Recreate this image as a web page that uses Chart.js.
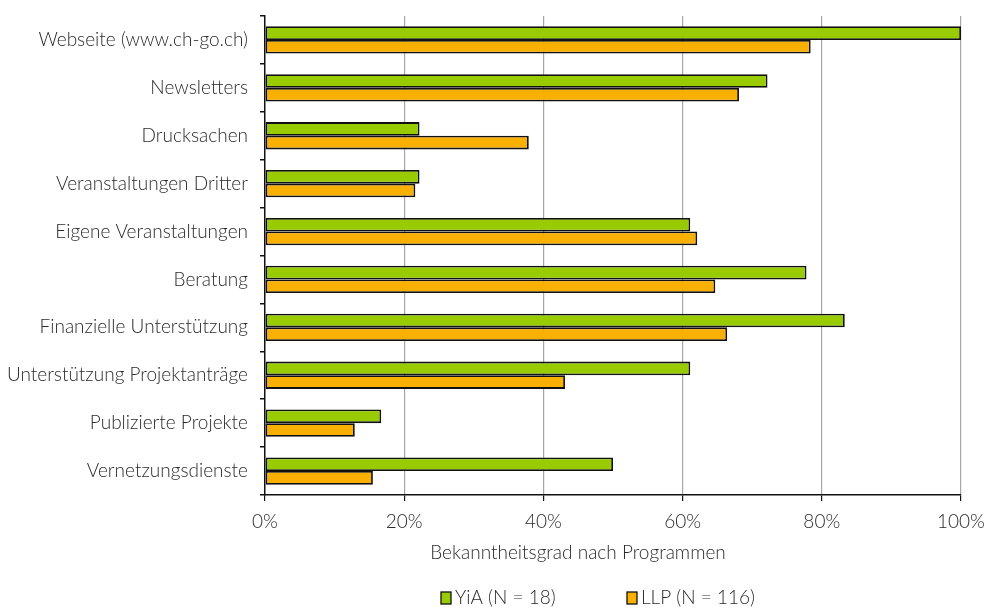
<!DOCTYPE html>
<html>
<head>
<meta charset="utf-8">
<script src="https://cdn.jsdelivr.net/npm/chart.js@4.4.0/dist/chart.umd.min.js"></script>
<style>
  body { margin: 0; background: #fff; }
</style>
</head>
<body>
<canvas id="chartBekanntheit" width="986" height="613"></canvas>
<script>
const kategorien = [
  'Webseite (www.ch-go.ch)', 'Newsletters', 'Drucksachen', 'Veranstaltungen Dritter',
  'Eigene Veranstaltungen', 'Beratung', 'Finanzielle Unterstützung',
  'Unterstützung Projektanträge', 'Publizierte Projekte', 'Vernetzungsdienste'
];
const yiaWerte = [100, 72.2, 22.2, 22.2, 61.1, 77.8, 83.3, 61.1, 16.7, 50];
const llpWerte = [78.4, 68.1, 37.9, 21.6, 62.1, 64.7, 66.4, 43.1, 12.9, 15.5];
const serienNamen = ['YiA (N = 18)', 'LLP (N = 116)'];
const xTicks = [0, 20, 40, 60, 80, 100];
const xTitel = 'Bekanntheitsgrad nach Programmen';

const schrift = 'Lato, "DejaVu Sans", sans-serif';
Chart.defaults.font.family = schrift;
Chart.defaults.font.size = 19;
Chart.defaults.font.weight = 300;
Chart.defaults.color = '#2a2a2a';

// Achsentitel und Legende unten, von Hand gezeichnet
const beschriftungPlugin = {
  id: 'beschriftungUnten',
  afterDraw(chart) {
    const ctx = chart.ctx;
    ctx.save();
    ctx.font = '300 19px ' + schrift;
    ctx.textBaseline = 'middle';
    ctx.fillStyle = '#2a2a2a';
    ctx.textAlign = 'center';
    ctx.fillText(xTitel, 578, 553);

    const y = 598;
    const startX = [441, 627];
    ctx.textAlign = 'left';
    chart.data.datasets.forEach((ds, i) => {
      ctx.fillStyle = ds.backgroundColor;
      ctx.fillRect(startX[i], y - 6, 10, 12);
      ctx.strokeStyle = '#111';
      ctx.lineWidth = 1.3;
      ctx.strokeRect(startX[i], y - 6, 10, 12);
      ctx.fillStyle = '#2a2a2a';
      ctx.fillText(ds.label, startX[i] + 14, y);
    });
    ctx.restore();
  }
};

new Chart(document.getElementById('chartBekanntheit'), {
  type: 'bar',
  data: {
    labels: kategorien,
    datasets: [{
      label: serienNamen[0],
      data: yiaWerte,
      backgroundColor: '#99CC00',
      borderColor: '#111',
      borderWidth: 1.8,
      borderSkipped: false
    }, {
      label: serienNamen[1],
      data: llpWerte,
      backgroundColor: '#FAB000',
      borderColor: '#111',
      borderWidth: 1.8,
      borderSkipped: false
    }]
  },
  options: {
    indexAxis: 'y',
    responsive: false,
    animation: false,
    datasets: { bar: { categoryPercentage: 0.57, barPercentage: 1 } },
    layout: { padding: { left: 0, right: 25, top: 16, bottom: 46 } },
    plugins: {
      legend: { display: false },
      tooltip: { enabled: false }
    },
    scales: {
      x: {
        min: 0,
        max: 100,
        afterBuildTicks: s => { s.ticks = xTicks.map(v => ({ value: v })); },
        afterFit: s => { s.height = 72; s.paddingLeft = 0; s.paddingRight = 0; },
        ticks: { callback: v => v + '%', padding: 9 },
        grid: {
          color: c => c.tick && c.tick.value === 0 ? 'rgba(0,0,0,0)' : '#a6a6a6',
          tickColor: '#111',
          tickLength: 6,
          lineWidth: 1.2
        },
        border: { color: '#111', width: 1.5 }
      },
      y: {
        afterFit: s => { s.width = 265; s.paddingTop = 0; s.paddingBottom = 0; },
        ticks: { padding: 12 },
        grid: {
          offset: true,
          drawOnChartArea: false,
          tickColor: '#111',
          tickLength: 5,
          lineWidth: 1.5
        },
        border: { color: '#111', width: 1.5 }
      }
    }
  },
  plugins: [beschriftungPlugin]
});
</script>
</body>
</html>
